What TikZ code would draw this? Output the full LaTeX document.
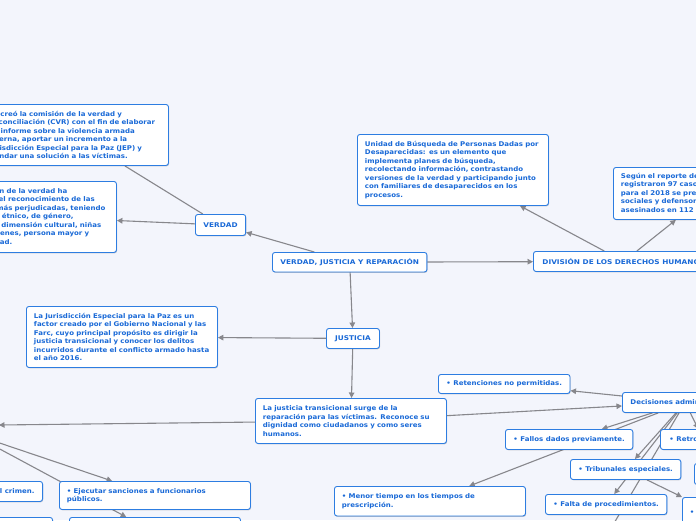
\documentclass[tikz,border=0pt]{standalone}
\usepackage{fontspec}
\setmainfont{DejaVu Sans}[FakeStretch=1.08]
\newfontfamily\capsfont{DejaVu Sans}[FakeStretch=1.13]
\usetikzlibrary{arrows.meta,shadows,backgrounds,calc}
\definecolor{bg}{RGB}{243,245,252}
\definecolor{bdr}{RGB}{45,125,225}
\definecolor{txt}{RGB}{25,105,215}
\definecolor{lnc}{RGB}{135,135,140}
\newcommand{\nf}{\fontsize{6.5}{8.5}\selectfont\bfseries}
\newcommand{\cf}{\capsfont\fontsize{6.5}{8.5}\selectfont\bfseries}
\begin{document}
\begin{tikzpicture}[x=1pt,y=-1pt,
  box/.style={draw=bdr, fill=white, rounded corners=2.5pt, line width=0.9pt,
    text=txt, font=\nf, inner xsep=8pt, inner ysep=2pt, anchor=north west,
    drop shadow={shadow xshift=0.6pt, shadow yshift=-0.9pt, fill=black, opacity=0.18}},
  mbox/.style={box, align=left, inner xsep=7.5pt},
  cbox/.style={box, align=center},
  capbox/.style={cbox, font=\cf},
  ln/.style={draw=lnc, line width=1.1pt},
  arr/.style={ln, -{Triangle[length=5.5pt,width=5.5pt]}}]
\useasboundingbox (0,0) rectangle (696,520);

% nodes
\node[mbox, minimum width=187.5pt, minimum height=61pt, text width=172.5pt] (topb) at (-19.5,104)
 {Se creó la comisión de la verdad y\\ Reconciliación (CVR) con el fin de elaborar\\ un informe sobre la violencia armada\\ interna, aportar un incremento a la\\ Jurisdicción Especial para la Paz (JEP) y\\ brindar una solución a las víctimas.};
\node[mbox, minimum width=166pt, minimum height=71pt, text width=151pt] (b2) at (-50,181)
 {La comisión de la verdad ha\\ permitido el reconocimiento de las\\ personas más perjudicadas, teniendo\\ el enfoque étnico, de género,\\ territorial, dimensión cultural, niñas\\ niños y jóvenes, persona mayor y\\ discapacidad.};
\node[capbox, minimum width=49pt, minimum height=21pt] (verdad) at (195,214) {VERDAD};
\node[capbox, minimum width=154pt, minimum height=19.5pt] (vjr) at (272,252) {VERDAD, JUSTICIA Y REPARACIÓN};
\node[mbox, minimum width=191pt, minimum height=71pt, text width=176pt] (unidad) at (357,134)
 {Unidad de Búsqueda de Personas Dadas por\\ Desaparecidas: es un elemento que\\ implementa planes de búsqueda,\\ recolectando información, contrastando\\ versiones de la verdad y participando junto\\ con familiares de desaparecidos en los\\ procesos.};
\node[mbox, minimum width=191pt, minimum height=52pt, text width=176pt] (segun) at (613,167)
 {Según el reporte de la Defensoría, se\\ registraron 97 casos de homicidios y\\ para el 2018 se presentaron líderes\\ sociales y defensores de DD.HH.\\ asesinados en 112 municipios.};
\node[box, font=\cf, minimum height=20pt, inner xsep=9pt] (div) at (533,251) {DIVISIÓN DE LOS DERECHOS HUMANOS};
\node[capbox, minimum width=53pt, minimum height=20pt] (justicia) at (326,328) {JUSTICIA};
\node[mbox, minimum width=191pt, minimum height=61pt, text width=176pt] (jep) at (26,306)
 {La Jurisdicción Especial para la Paz es un\\ factor creado por el Gobierno Nacional y las\\ Farc, cuyo principal propósito es dirigir la\\ justicia transicional y conocer los delitos\\ incurridos durante el conflicto armado hasta\\ el año 2016.};
\node[mbox, minimum width=191pt, minimum height=45pt, text width=176pt] (jt) at (255,398)
 {La justicia transicional surge de la\\ reparación para las víctimas. Reconoce su\\ dignidad como ciudadanos y como seres\\ humanos.};
\node[cbox, minimum width=131pt, minimum height=19pt] (ret) at (438,374) {• Retenciones no permitidas.};
\node[box, minimum height=20pt] (dec) at (622,392) {Decisiones administrativas.};
\node[cbox, minimum width=127pt, minimum height=20pt] (fallos) at (505,429) {• Fallos dados previamente.};
\node[box, minimum height=20pt, inner xsep=9pt] (retro) at (660,429) {• Retroactividad.};
\node[cbox, minimum width=110pt, minimum height=20pt] (trib) at (570,459) {• Tribunales especiales.};
\node[box, minimum width=100pt, minimum height=21pt] (smallb) at (694,463) {};
\node[cbox, minimum width=120pt, minimum height=20pt] (falta) at (545,494) {• Falta de procedimientos.};
\node[mbox, minimum width=100pt, minimum height=28pt, text width=85pt] (br) at (682,497) {• Amnistía.};
\node[mbox, minimum width=191pt, minimum height=29.5pt, text width=176pt] (menor) at (334,486)
 {• Menor tiempo en los tiempos de\\ prescripción.};
\node[box, minimum height=20pt, anchor=north east] (crimen) at (43,481) {• Encubrimiento del crimen.};
\node[mbox, minimum width=191pt, minimum height=28pt, text width=176pt] (ejec) at (59,481)
 {• Ejecutar sanciones a funcionarios\\ públicos.};
\node[box, minimum width=150pt, minimum height=30pt, anchor=north east] (bl1) at (53,517) {};
\node[box, minimum width=171pt, minimum height=30pt] (bl2) at (69,517) {};

\coordinate (lft) at (-1,425);
\coordinate (lsrc) at (-30,433);
\coordinate (offb) at (610,530);

\begin{pgfonlayer}{background}
\fill[bg] (0,0) rectangle (696,520);
\draw[arr] (vjr) -- (verdad);
\draw[ln] (verdad) -- (topb);
\draw[arr] (verdad) -- (b2);
\draw[arr] (vjr) -- (div);
\draw[arr] (div) -- (unidad);
\draw[arr] (div) -- (segun);
\draw[arr] (vjr) -- (justicia);
\draw[arr] (justicia) -- (jep);
\draw[arr] (justicia) -- (jt);
\draw[arr] (jt) -- (dec);
\draw[arr] (jt) -- (lft);
\draw[arr] (dec) -- (ret);
\draw[arr] (dec) -- (fallos);
\draw[arr] (dec) -- (menor);
\draw[arr] (dec) -- (trib);
\draw[arr] (dec) -- (falta);
\draw[arr] (dec) -- (offb);
\draw[arr] (dec) -- (retro);
\draw[arr] (trib) -- (br.north west);
\draw[arr] (lsrc) -- (ejec);
\draw[arr] (lsrc) -- (bl2);
\end{pgfonlayer}
\end{tikzpicture}
\end{document}
